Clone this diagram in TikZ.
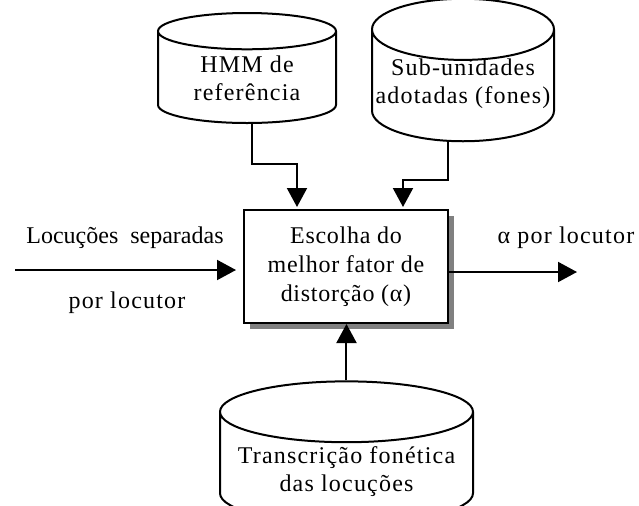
\documentclass[tikz,border=0pt]{standalone}
\usepackage{fontspec}
\setmainfont{Liberation Serif}
\usetikzlibrary{shapes.geometric,arrows.meta,shadows}

\tikzset{
  base/.style={cylinder, shape border rotate=90, draw, line width=1pt, aspect=0.34, align=center, inner sep=0pt,
    anchor=shape center, font=\fontsize{12}{14}\selectfont\addfontfeatures{LetterSpace=5}},
  rotulo/.style={align=center, inner sep=0pt, font=\fontsize{12}{14}\selectfont\addfontfeatures{LetterSpace=5}},
  bloco/.style={draw, line width=1pt, fill=white, align=center, minimum width=102pt, minimum height=56.5pt,
    font=\fontsize{12}{14.5}\selectfont\addfontfeatures{LetterSpace=3},
    drop shadow={shadow xshift=3pt, shadow yshift=-3pt, fill=gray, opacity=1}},
  seta/.style={line width=1pt, -{Triangle[length=9.5pt,width=10pt]}},
}

\begin{document}
\begin{tikzpicture}[x=0.5pt,y=-0.5pt, font=\fontsize{12}{14}\selectfont]
\useasboundingbox (0,0) rectangle (639,505);

% bases de dados
\node[base, minimum width=89pt, minimum height=55pt] (hmm) at (247,68) {\phantom{HMM de}\\\phantom{referência}};
\node[base, minimum width=91pt, minimum height=55pt, aspect=0.35] (sub) at (463,70) {\phantom{Sub-unidades}\\\phantom{adotadas (fones)}};
\node[base, minimum width=126.5pt, minimum height=59.5pt, aspect=0.28] (trans) at (346.5,452.5) {\phantom{Transcrição fonética}\\\phantom{das locuções}};
\node[rotulo] (hmmtxt) at (247,78) {HMM de\\referência};
\node[rotulo] (subtxt) at (463,84) {Sub-unidades\\adotadas (fones)};
\node[rotulo] (transtxt) at (346.5,472) {Transcrição fonética\\das locuções};

% bloco central
\node[bloco] (esc) at (346,266.5) {Escolha do\\melhor fator de\\distorção (α)};

% textos
\node (loc1) at (125,238) {Locuções\ \ separadas};
\node[rotulo] (loc2) at (127,303) {por locutor};
\node[rotulo] (saida) at (566,238) {α por locutor};
\coordinate (ini) at (15,270);
\coordinate (fim) at (577,272);

% ligacoes
\draw[seta, shorten >=1pt] ([xshift=2.5pt]hmm.south) -- ++(0,40) -| ([xshift=-24.5pt]esc.north);
\draw[seta, shorten >=1pt] ([xshift=-7.5pt]sub.south) -- ++(0,38) -| ([xshift=28.5pt]esc.north);
\draw[seta, shorten >=3.5pt] (ini) -- (ini -| esc.west);
\draw[seta] (fim -| esc.east) -- (fim);
\draw[seta] (trans.north) -- (trans.north |- esc.south);
\end{tikzpicture}
\end{document}
